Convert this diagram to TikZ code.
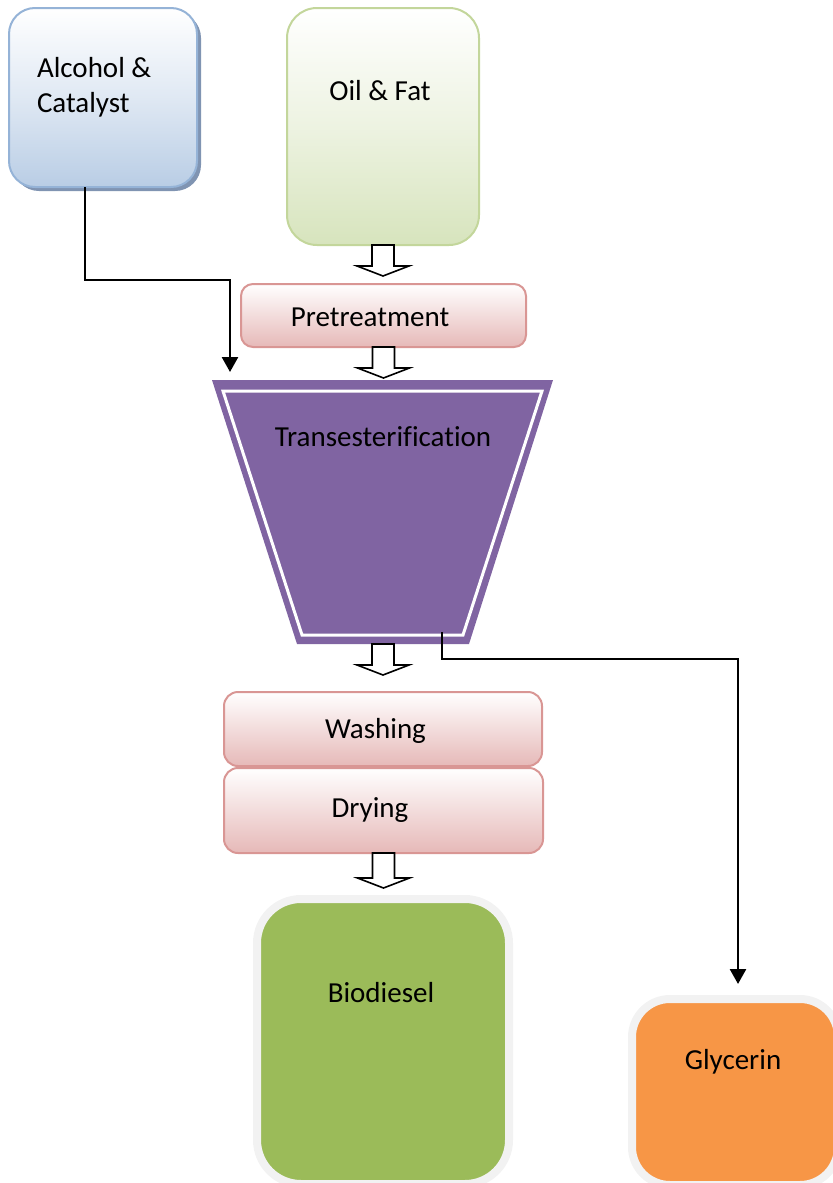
\documentclass[tikz,border=0pt]{standalone}
\usepackage{fontspec}
\setmainfont{Carlito}[Ligatures=NoCommon]
\usetikzlibrary{calc,arrows.meta}
\definecolor{alcborder}{RGB}{149,179,215}
\definecolor{alcfill}{RGB}{185,205,229}
\definecolor{alcshadow}{RGB}{128,148,178}
\definecolor{oilborder}{RGB}{195,214,155}
\definecolor{oilfill}{RGB}{215,228,189}
\definecolor{pinkborder}{RGB}{217,150,148}
\definecolor{pinkfill}{RGB}{230,185,184}
\definecolor{purp}{RGB}{128,100,162}
\definecolor{biogreen}{RGB}{155,187,89}
\definecolor{glyorange}{RGB}{247,150,70}
\definecolor{ringgray}{RGB}{242,242,242}
\newcommand{\hollowarrow}[2]{\draw[hollow] ($(#1)+(-11,0)$) -- ++(22,0) -- ++(0,#2) -- ++(15,0) -- ++(-26,10) -- ++(-26,-10) -- ++(15,0) -- cycle;}
\begin{document}
\begin{tikzpicture}[x=0.5pt,y=-0.5pt,
  every node/.style={inner sep=0pt, outer sep=0pt},
  lbl/.style={font=\fontsize{14.5pt}{17.5pt}\selectfont, text=black},
  gradbox/.style={draw=#1border, line width=1pt, top color=white, bottom color=#1fill, middle color=white!55!#1fill},
  pinkbox/.style={draw=pinkborder, line width=1pt, top color=white, bottom color=pinkfill, rounded corners=6pt},
  endbox/.style={draw=ringgray, line width=4pt, fill=#1},
  hollow/.style={draw=black, fill=white, line width=0.8pt, line join=miter},
  conn/.style={draw=black, line width=1.3pt, -{Triangle[width=8pt,length=7.5pt]}}]
\useasboundingbox (0,0) rectangle (833,1183);
\begin{scope}
\clip (0,0) rectangle (833,1183);
% Alcohol & Catalyst
\fill[alcshadow, rounded corners=13pt] (9,8) ++(4,4) rectangle ++(188,179);
\node[gradbox=alc, rounded corners=13pt, minimum width=94pt, minimum height=89.5pt] (alc) at (103,97.5) {};
\node[lbl, anchor=west, align=left] (alct) at (37,87.5) {Alcohol \&\\Catalyst};
% Oil & Fat
\node[gradbox=oil, rounded corners=15pt, minimum width=96pt, minimum height=118.5pt] (oil) at (383,126.5) {};
\node[lbl] (oilt) at (380,91) {Oil \& Fat};
% Pretreatment
\node[pinkbox, minimum width=142.5pt, minimum height=31.5pt] (pre) at (383.5,315.5) {};
\node[lbl] (pret) at (370,317) {Pretreatment};
% Transesterification
\coordinate (trTL) at (212,380);
\coordinate (trTR) at (553,380);
\coordinate (trBR) at (469,644);
\coordinate (trBL) at (297,644);
\coordinate (trB) at (383,644);
\fill[purp] (trTL) -- (trTR) -- (trBR) -- (trBL) -- cycle;
\draw[white, line width=1.5pt, line join=miter] (223,391) -- (542,391) -- (463,635) -- (302,635) -- cycle;
\node[lbl] (trt) at (383,437) {Transesterification};
% Washing / Drying
\node[pinkbox, rounded corners=7pt, minimum width=159pt, minimum height=37pt] (wash) at (383,729) {};
\node[lbl] (washt) at (375.5,731) {Washing};
\node[pinkbox, rounded corners=7pt, minimum width=159.5pt, minimum height=42.5pt] (dry) at (383.5,810.5) {};
\node[lbl] (dryt) at (370,810) {Drying};
% Biodiesel
\node[endbox=biogreen, rounded corners=22pt, minimum width=126pt, minimum height=142.5pt] (bio) at (383,1041.5) {};
\node[lbl] (biot) at (381,993) {Biodiesel};
% Glycerin
\node[endbox=glyorange, rounded corners=19pt, minimum width=103pt, minimum height=93pt] (gly) at (735,1092) {};
\node[lbl] (glyt) at (733,1062) {Glycerin};
% hollow block arrows
\hollowarrow{oil.south}{21}
\hollowarrow{pre.south}{21}
\hollowarrow{trB}{21}
\hollowarrow{dry.south}{25}
% connectors
\coordinate (alcbend) at (230,280);
\coordinate (alcin) at (230,372);
\draw[conn] ($(alc.south west)+(76,0)$) |- (alcbend) -- (alcin);
\coordinate (glyout) at (442,632);
\coordinate (glybend) at (738,659);
\coordinate (glyin) at (738,984);
\draw[conn] (glyout) |- (glybend) -- (glyin);
\end{scope}
\end{tikzpicture}
\end{document}
